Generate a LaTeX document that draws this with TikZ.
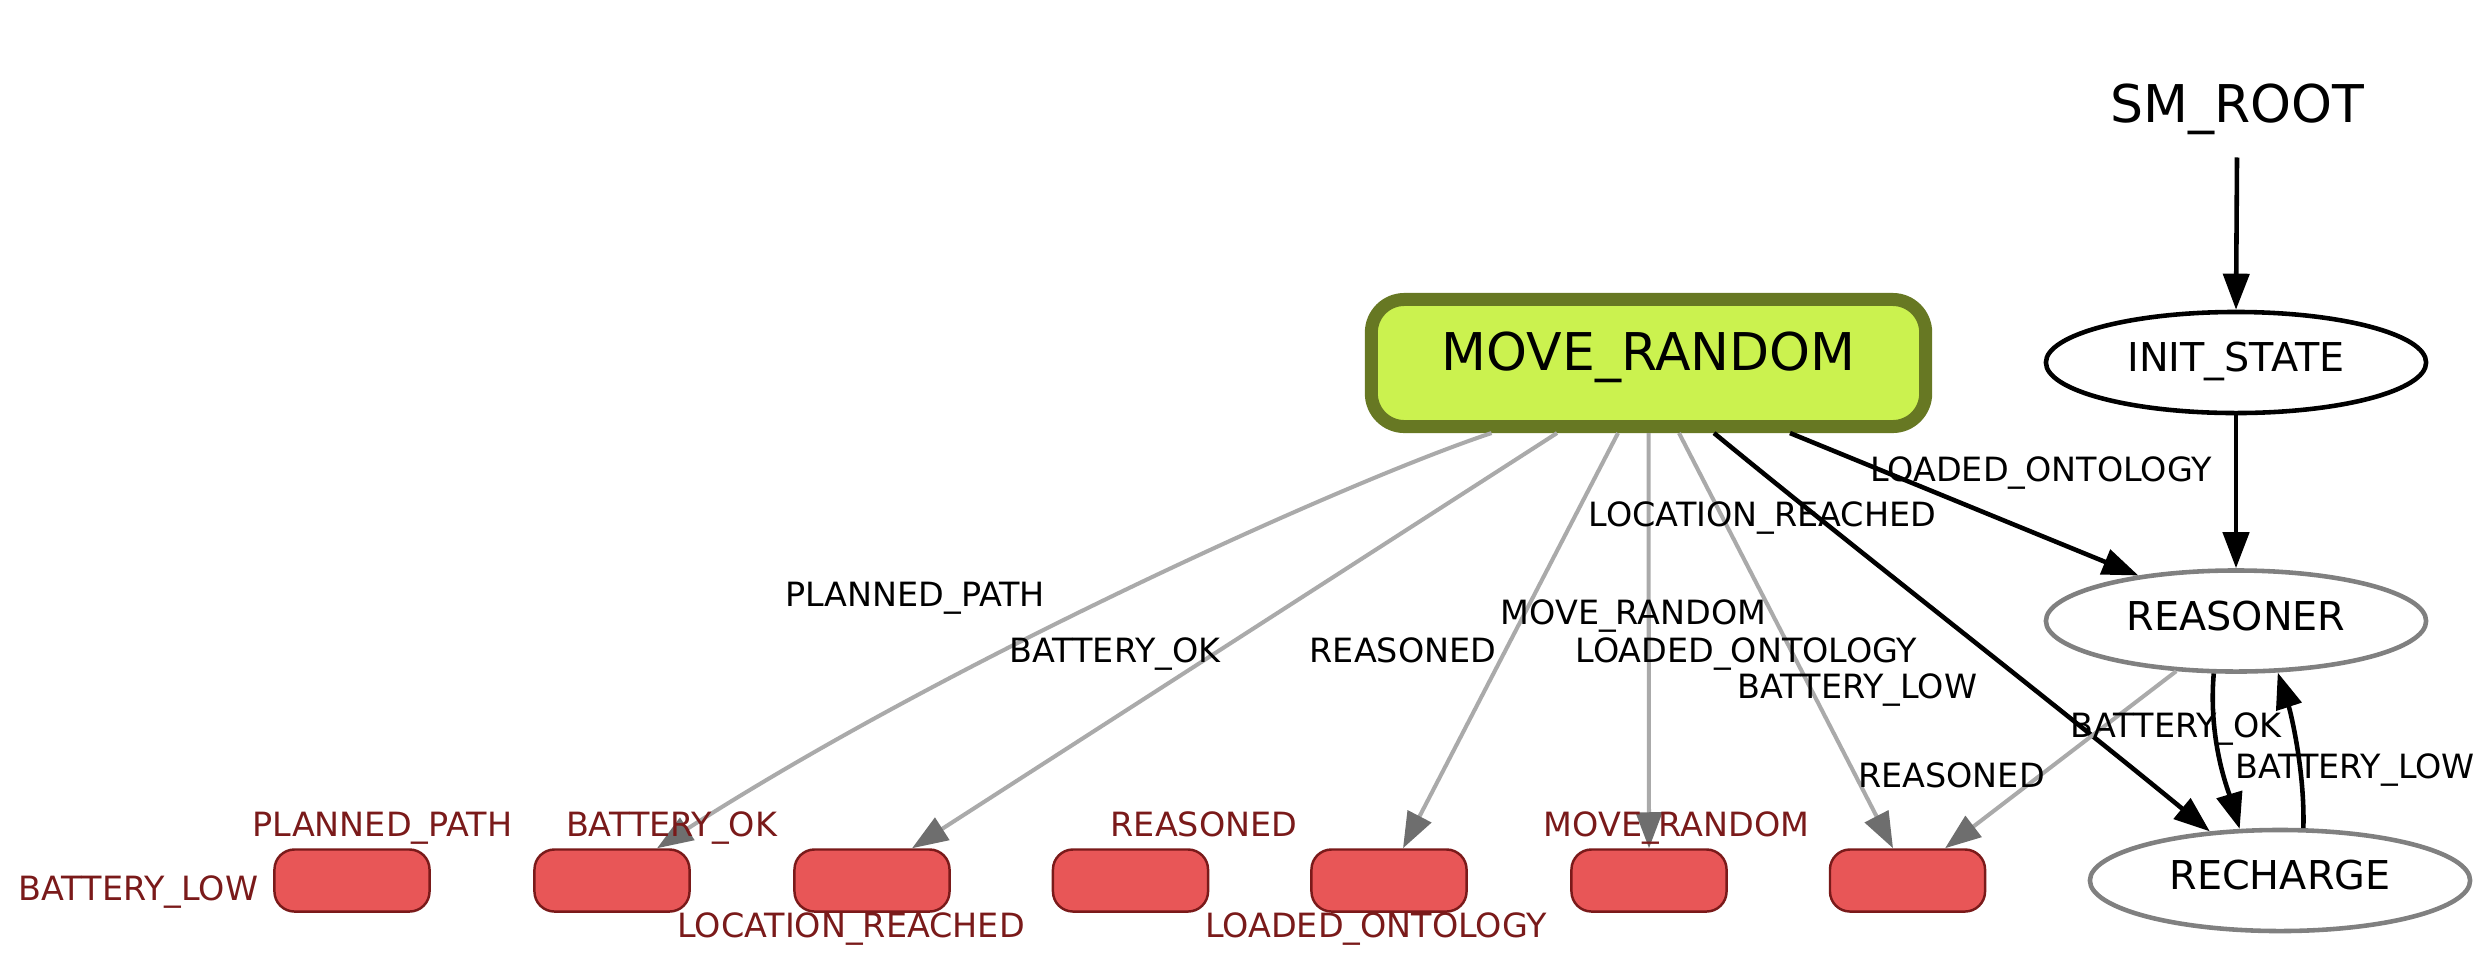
\documentclass[tikz,border=0pt]{standalone}
\usepackage{fontspec}
\setmainfont{DejaVu Sans}
\usetikzlibrary{arrows.meta,shapes.geometric,calc}
\definecolor{limefill}{HTML}{CBF24F}
\definecolor{mrborder}{HTML}{677823}
\definecolor{outred}{HTML}{E85657}
\definecolor{outdark}{HTML}{7A1A1A}
\definecolor{edgegray}{HTML}{AAAAAA}
\definecolor{tipgray}{HTML}{6E6E6E}
\definecolor{stategray}{HTML}{808080}

\begin{document}
\begin{tikzpicture}[x=0.01cm, y=-0.01cm,
    state/.style={ellipse, draw=stategray, line width=1.3pt, minimum width=3.8cm,
        minimum height=1.01cm, font=\fontsize{11.3}{13}\selectfont,
        text height=8.6pt, text depth=3.4pt},
    activebox/.style={rectangle, rounded corners=0.33cm, draw=mrborder, fill=limefill,
        line width=3.7pt, minimum width=5.54cm, minimum height=1.27cm,
        font=\fontsize{14.8}{17}\selectfont, text height=11.2pt, text depth=6.7pt},
    outbox/.style={rectangle, rounded corners=0.2cm, draw=outdark, fill=outred,
        line width=0.7pt, minimum width=1.55cm, minimum height=0.62cm},
    lbl/.style={font=\fontsize{9.5}{11}\selectfont, anchor=base, inner sep=0pt},
    outlbl/.style={lbl, text=outdark},
    blacklink/.style={draw=black, line width=1.3pt,
        -{Triangle[length=0.36cm,width=0.26cm]}},
    graylink/.style={draw=edgegray, line width=1.15pt,
        -{Triangle[length=0.36cm,width=0.26cm,color=tipgray]}}]
\useasboundingbox (0,0) rectangle (2488,966);

\node[font=\fontsize{14.8}{17}\selectfont, anchor=base, inner sep=6.4pt] (root) at (2237,122) {SM\_ROOT};
\node[state, draw=black] (init) at (2236,362.5) {INIT\_STATE};
\node[state] (reasoner) at (2236,621) {REASONER};
\node[state] (recharge) at (2280,880.5) {RECHARGE};
\node[activebox] (mr) at (1648.5,363) {MOVE\_RANDOM};
\foreach \i/\x in {1/352,2/612,3/872,4/1130.5,5/1389,6/1649,7/1907.5}{
    \node[outbox] (b\i) at (\x,880.5) {};
}

\draw[blacklink] (root.south) -- (init.north);
\draw[blacklink] (init.south) -- (reasoner.north);
\draw[graylink] ($(mr.south)+(-157,0)$) .. controls (1350,480) and (950,660) .. ($(b2.north)+(45,0)$);
\draw[graylink] ($(mr.south)+(-91.5,0)$) -- ($(b3.north)+(40,0)$);
\draw[graylink] ($(mr.south)+(-30.5,0)$) -- ($(b5.north)+(14,0)$);
\draw[graylink] (mr.south) -- (b6.north);
\draw[graylink] ($(mr.south)+(30.5,0)$) -- ($(b7.north)+(-14.5,0)$);
\draw[blacklink] ($(mr.south)+(65.5,0)$) .. controls (1850,545) and (2050,700) .. (recharge.145);
\draw[blacklink] ($(mr.south)+(141.5,0)$) -- (reasoner.155);
\draw[graylink] (reasoner.220) -- ($(b7.north)+(37.5,0)$);
\draw[blacklink] (reasoner.247) .. controls (2208,740) and (2228,790) .. (recharge.128);
\draw[blacklink] (recharge.66) .. controls (2305,770) and (2290,710) .. (reasoner.-51);

\node[lbl] (la) at (915,606) {PLANNED\_PATH};
\node[lbl] (lb) at (1115,662) {BATTERY\_OK};
\node[lbl] (lc) at (1403,662) {REASONED};
\node[lbl] (ld) at (1633.5,624) {MOVE\_RANDOM};
\node[lbl] (le) at (1746.5,662) {LOADED\_ONTOLOGY};
\node[lbl] (lf) at (1762.5,526) {LOCATION\_REACHED};
\node[lbl] (lg) at (1857.5,698) {BATTERY\_LOW};
\node[lbl] (lh) at (2041,481) {LOADED\_ONTOLOGY};
\node[lbl] (li) at (2176,737) {BATTERY\_OK};
\node[lbl] (lj) at (2355,778) {BATTERY\_LOW};
\node[lbl] (lk) at (1951.5,787) {REASONED};

\node[outlbl] (oa) at (382.5,836) {PLANNED\_PATH};
\node[outlbl] (ob) at (671.5,836) {BATTERY\_OK};
\node[outlbl] (oc) at (138.5,900) {BATTERY\_LOW};
\node[outlbl] (od) at (851,937) {LOCATION\_REACHED};
\node[outlbl] (oe) at (1204,836) {REASONED};
\node[outlbl] (of) at (1376,937) {LOADED\_ONTOLOGY};
\node[outlbl] (og) at (1676.5,836) {MOVE\_RANDOM};
\end{tikzpicture}
\end{document}
